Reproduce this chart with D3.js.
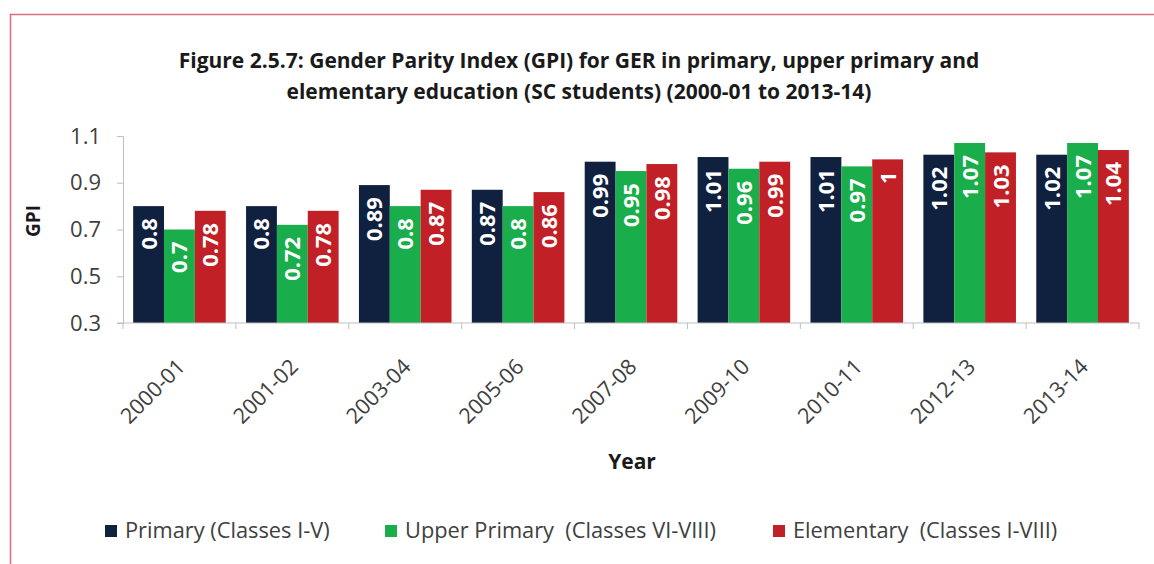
<!DOCTYPE html>
<html>
<head>
<meta charset="utf-8">
<script src="https://cdn.jsdelivr.net/npm/d3@7"></script>
<style>
  html, body { margin: 0; padding: 0; background: #fff; }
  svg { display: block; }
  text { font-family: "Open Sans", Lato, sans-serif; }
</style>
</head>
<body>
<svg id="chart" width="1154" height="564"></svg>
<script>
// GPI for GER among SC students, by school level
const years = ["2000-01", "2001-02", "2003-04", "2005-06", "2007-08", "2009-10", "2010-11", "2012-13", "2013-14"];
const primary = [0.8, 0.8, 0.89, 0.87, 0.99, 1.01, 1.01, 1.02, 1.02];
const upperPrimary = [0.7, 0.72, 0.8, 0.8, 0.95, 0.96, 0.97, 1.07, 1.07];
const elementary = [0.78, 0.78, 0.87, 0.86, 0.98, 0.99, 1, 1.03, 1.04];
const seriesNames = ["Primary (Classes I-V)", "Upper Primary  (Classes VI-VIII)", "Elementary  (Classes I-VIII)"];
const yTicks = [0.3, 0.5, 0.7, 0.9, 1.1];

const colors = ["#10213f", "#1aad4b", "#c02026"];
const series = [primary, upperPrimary, elementary];

const svg = d3.select("#chart");
const W = 1154, H = 564;

// outer frame
svg.append("rect")
  .attr("x", 10.5).attr("y", 14.5)
  .attr("width", W + 10).attr("height", H + 10)
  .attr("fill", "none").attr("stroke", "#d9707c").attr("stroke-width", 1.5);

const plot = { left: 123, right: 1139, top: 136, bottom: 323 };

const x = d3.scaleBand().domain(years).range([plot.left, plot.right]).paddingInner(0.18).paddingOuter(0.09);
const x1 = d3.scaleBand().domain(d3.range(3)).range([0, x.bandwidth()]);
const y = d3.scaleLinear().domain([0.3, 1.1]).range([plot.bottom, plot.top]);

// title
const title = svg.append("text")
  .attr("x", 579).attr("y", 68)
  .attr("text-anchor", "middle")
  .attr("font-size", 21).attr("font-weight", "bold").attr("fill", "#1a1a1a");
title.append("tspan").attr("x", 579).attr("dy", 0)
  .text("Figure 2.5.7: Gender Parity Index (GPI) for GER in primary, upper primary and");
title.append("tspan").attr("x", 579).attr("dy", 31)
  .text("elementary education (SC students) (2000-01 to 2013-14)");

// bars
const groups = svg.append("g").selectAll("g")
  .data(years)
  .join("g")
  .attr("transform", d => `translate(${x(d)},0)`);

groups.each(function (yr, i) {
  const g = d3.select(this);
  series.forEach((vals, s) => {
    const v = vals[i];
    const bx = x1(s), bw = x1.bandwidth();
    g.append("rect")
      .attr("x", bx).attr("y", y(v))
      .attr("width", bw).attr("height", y(0.3) - y(v))
      .attr("fill", colors[s]);
    g.append("text")
      .attr("transform", `translate(${bx + bw / 2 + 8},${y(v) + 12}) rotate(-90)`)
      .attr("text-anchor", "end")
      .attr("font-size", 22).attr("font-weight", "bold").attr("fill", "#fff")
      .text(v);
  });
});

// y axis
const yAxis = svg.append("g")
  .attr("transform", `translate(${plot.left},0)`)
  .call(d3.axisLeft(y).tickValues(yTicks).tickFormat(d3.format(".1f")).tickSize(6).tickPadding(16));
yAxis.select(".domain").attr("stroke", "#bfbfbf");
yAxis.selectAll(".tick line").attr("stroke", "#bfbfbf");
yAxis.selectAll(".tick text").attr("font-size", 22).attr("fill", "#404040").style("font-family", "'Open Sans', sans-serif");

// x axis with boundary ticks between categories
const xAxisG = svg.append("g").attr("transform", `translate(0,${plot.bottom})`);
xAxisG.append("line")
  .attr("x1", plot.left - 6).attr("x2", plot.right)
  .attr("stroke", "#bfbfbf");
const step = x.step();
const boundaries = d3.range(years.length + 1).map(k => x(years[0]) - x.paddingOuter() * step + k * step);
xAxisG.selectAll(".bt").data(boundaries).join("line")
  .attr("x1", d => d).attr("x2", d => d)
  .attr("y1", 0).attr("y2", 6)
  .attr("stroke", "#bfbfbf");
xAxisG.selectAll(".xl").data(years).join("text")
  .attr("transform", d => `translate(${x(d) + x.bandwidth() / 2 + 7},${45}) rotate(-45)`)
  .attr("text-anchor", "end")
  .attr("font-size", 21.5).attr("fill", "#404040")
  .text(d => d);

// axis titles
svg.append("text")
  .attr("transform", "translate(40,221) rotate(-90)")
  .attr("text-anchor", "middle")
  .attr("font-size", 19).attr("font-weight", "bold").attr("fill", "#1a1a1a")
  .text("GPI");
svg.append("text")
  .attr("x", 632).attr("y", 469)
  .attr("text-anchor", "middle")
  .attr("font-size", 21).attr("font-weight", "bold").attr("fill", "#1a1a1a")
  .text("Year");

// legend
const legendX = [105, 385, 773];
const legend = svg.append("g").selectAll("g")
  .data(seriesNames)
  .join("g")
  .attr("transform", (d, i) => `translate(${legendX[i]},525)`);
legend.append("rect")
  .attr("width", 12).attr("height", 12)
  .attr("fill", (d, i) => colors[i]);
legend.append("text")
  .attr("x", 20).attr("y", 13)
  .attr("font-size", 21.8).attr("fill", "#404040")
  .style("white-space", "pre")
  .attr("xml:space", "preserve")
  .text(d => d);
</script>
</body>
</html>
